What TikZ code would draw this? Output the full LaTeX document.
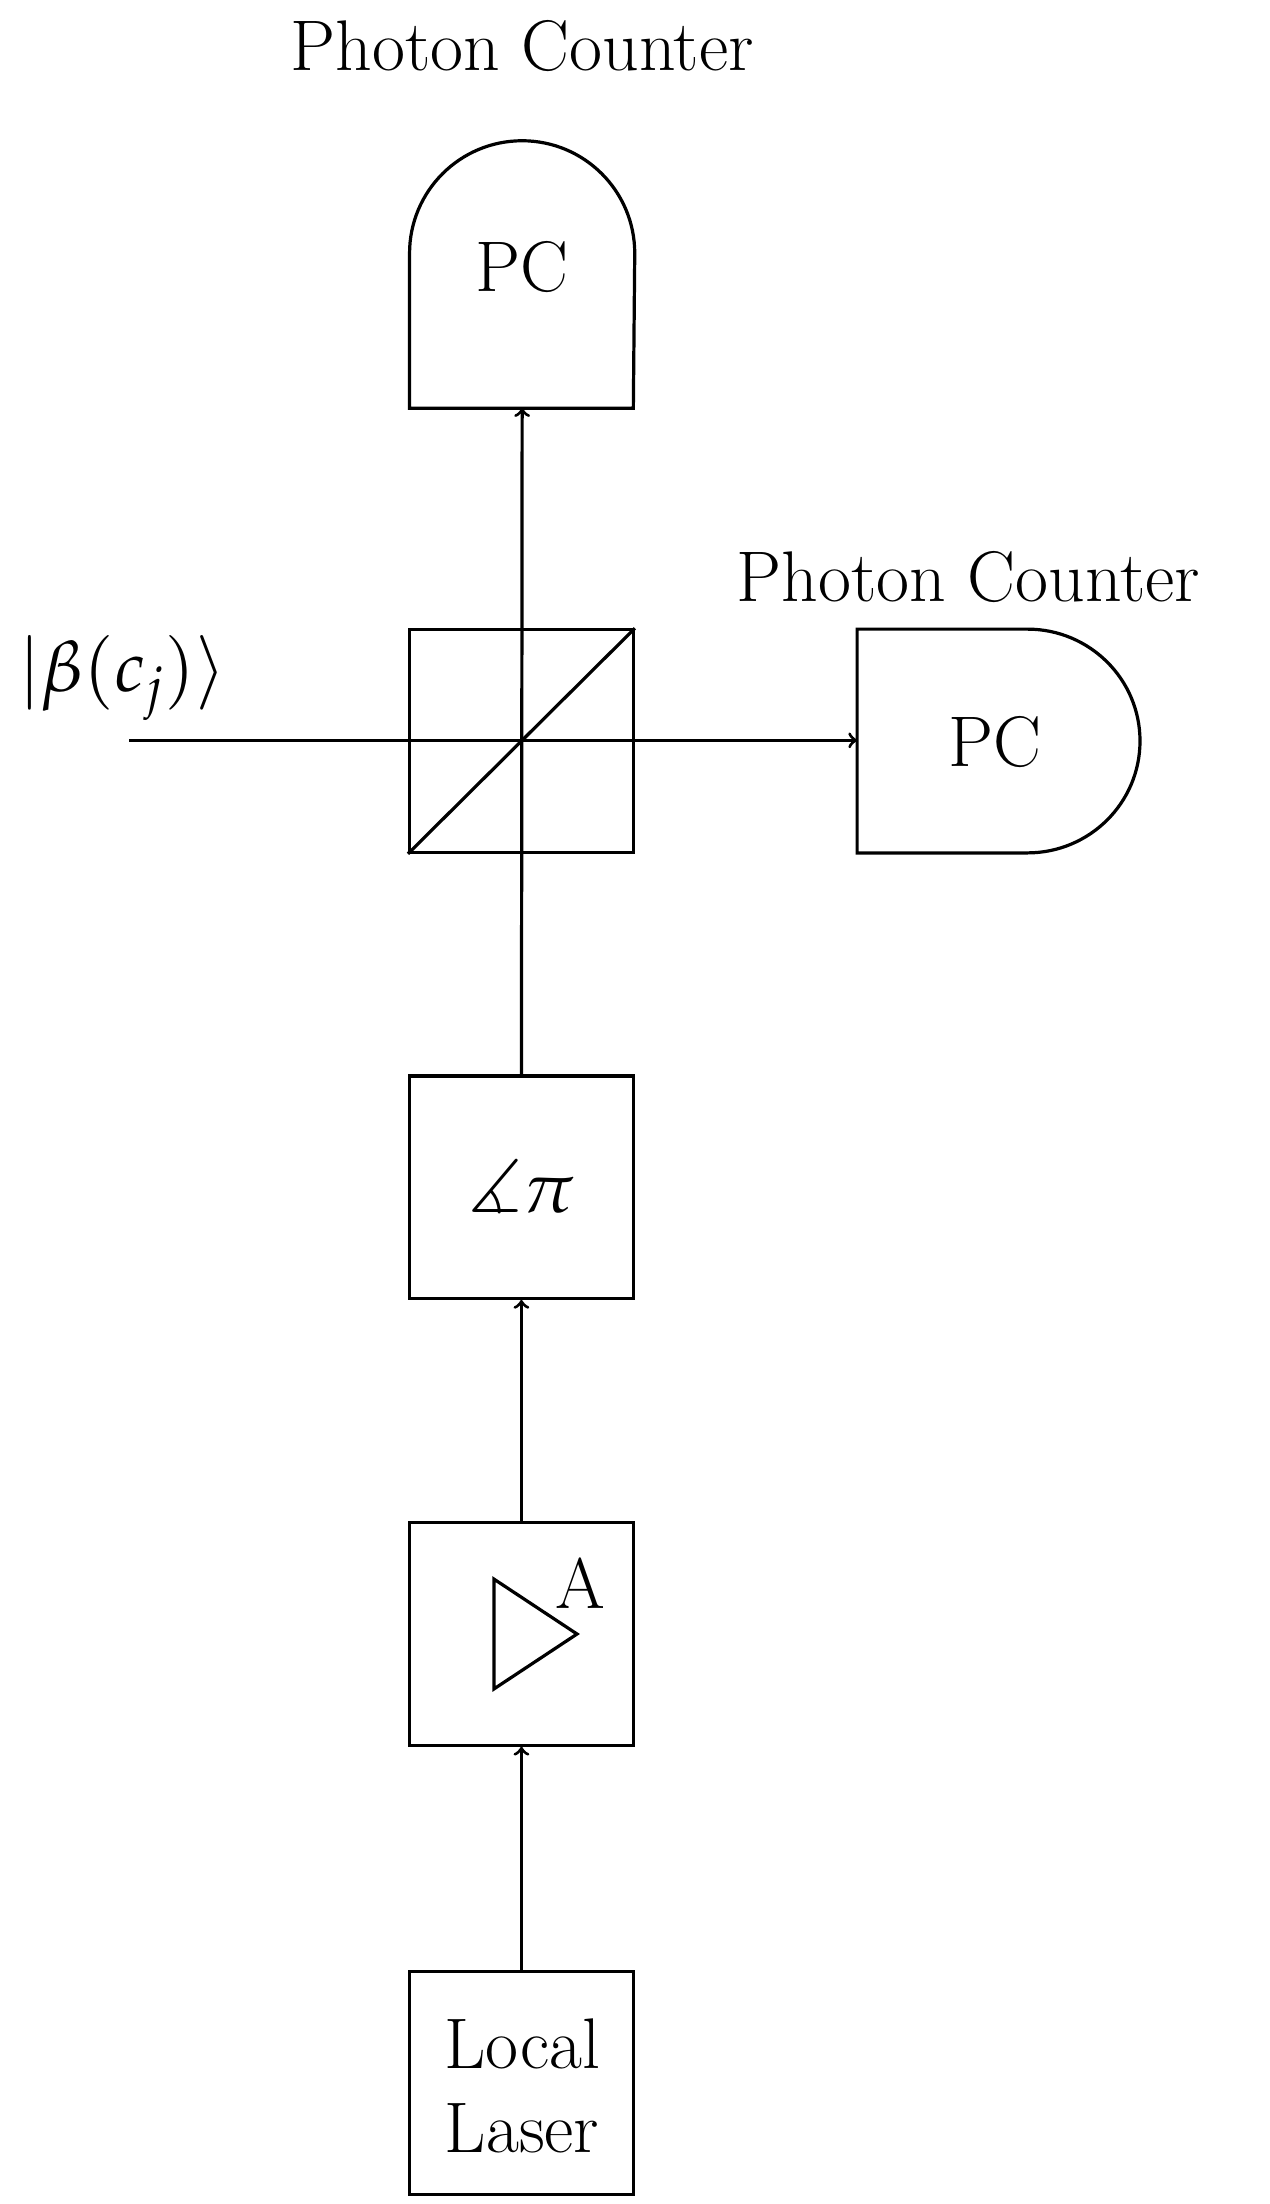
\documentclass[tikz,border=0pt]{standalone}
\usepackage{mathpazo}
\usepackage{amssymb}
\begin{document}
\begin{tikzpicture}[x=0.02cm,y=-0.02cm,line width=1.3pt,
  txt/.style={font=\fontsize{29}{34}\selectfont,align=center,inner sep=0pt},
  box/.style={draw,minimum width=3.18cm,minimum height=3.16cm,inner sep=0pt},
  arr/.style={->,>=to}]
\useasboundingbox (0,0) rectangle (902,1566);
% top photon counter
\draw (291,290) -- (291,180) arc[start angle=180,end angle=0,x radius=80,y radius=-80] -- (450,290) -- cycle;
\node[txt] (pc1) at (371,190) {PC};
\coordinate (pc1b) at (371,290);
\node[txt] (l1) at (371,33) {Photon Counter};
% beam splitter
\node[box] (bs) at (370.5,526.5) {};
\draw (bs.south west) -- (bs.north east);
% right photon counter
\draw (609,447) -- (730,447) arc[start angle=90,end angle=-90,x radius=80,y radius=-79.5] -- (609,606) -- cycle;
\node[txt] (pc2) at (707,527) {PC};
\coordinate (pc2l) at (609,526);
\node[txt] (l2) at (688,410) {Photon Counter};
% input
\node[txt,anchor=west] (in) at (12,482) {$|\beta(c_j)\rangle$};
\coordinate (inS) at (92,526);
\draw[arr] (inS) -- (pc2l);
% phase
\node[box] (ph) at (370.5,843.5) {};
\node[txt] at (ph) {$\measuredangle\pi$};
\draw[arr] (ph.north) -- (pc1b);
% amplifier
\node[box] (amp) at (370.5,1161) {};
\draw (351,1122) -- (351,1200) -- (410,1161) -- cycle;
\node[txt] (a) at (412,1125) {A};
\draw[arr] (amp.north) -- (ph.south);
% laser
\node[box] (las) at (370.5,1480) {};
\node[txt] at (371,1482) {Local\\Laser};
\draw[arr] (las.north) -- (amp.south);
\end{tikzpicture}
\end{document}
